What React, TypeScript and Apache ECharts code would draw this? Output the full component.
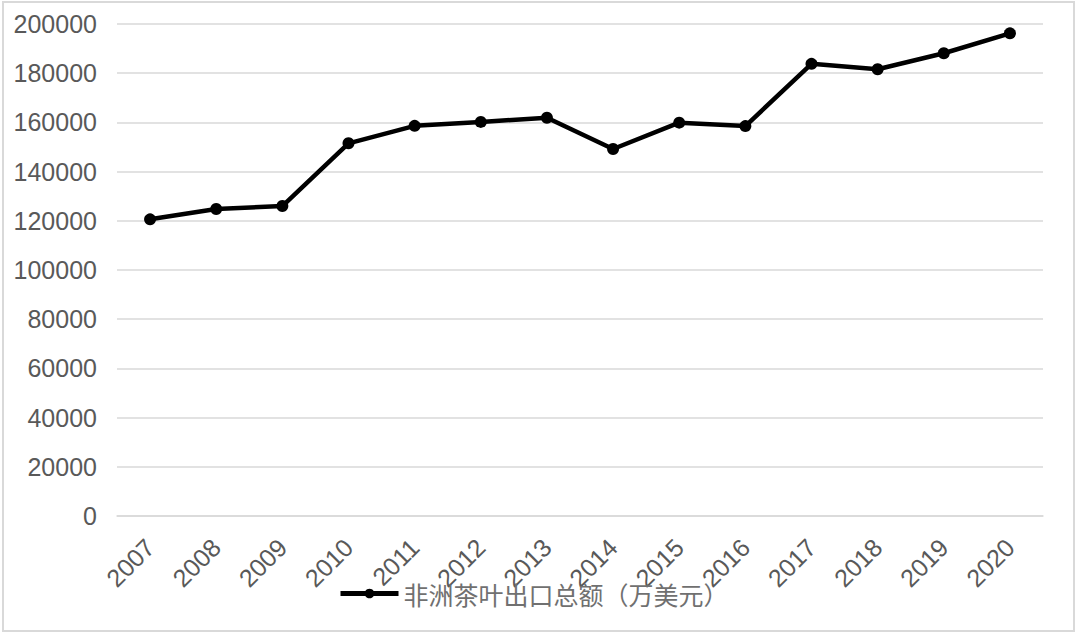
import React, { useEffect, useRef } from "react";
import * as echarts from "echarts";

const years = ["2007", "2008", "2009", "2010", "2011", "2012", "2013", "2014", "2015", "2016", "2017", "2018", "2019", "2020"];
const exportTotal = [120600, 124800, 126000, 151500, 158600, 160200, 161900, 149200, 159900, 158500, 183800, 181600, 188100, 196200];
const seriesName = "非洲茶叶出口总额（万美元）";
const yMin = 0;
const yMax = 200000;
const yStep = 20000;

export default function App() {
  const ref = useRef<HTMLDivElement>(null);
  useEffect(() => {
    if (!ref.current) return;
    const chart = echarts.init(ref.current, null, { renderer: "svg" });
    chart.setOption({
      animation: false,
      backgroundColor: "#ffffff",
      textStyle: { fontFamily: "'Liberation Sans', 'Noto Sans CJK SC', sans-serif" },
      graphic: [
        {
          type: "rect",
          shape: { x: 3, y: 2, width: 1071, height: 629 },
          style: { fill: "none", stroke: "#d9d9d9", lineWidth: 2 },
          silent: true,
        },
      ],
      grid: { left: 117, right: 37, top: 24, bottom: 120, containLabel: false },
      legend: {
        show: true,
        left: 333,
        top: 576,
        itemWidth: 58,
        itemHeight: 12,
        itemGap: 10,
        lineStyle: { width: 5, color: "#000000" },
        itemStyle: { color: "#000000" },
        data: [{ name: seriesName }],
        textStyle: {
          color: "#707070",
          fontSize: 25,
          fontFamily: "'Noto Sans CJK SC', sans-serif",
        },
      },
      xAxis: {
        type: "category",
        data: years,
        boundaryGap: true,
        axisLine: { show: true, lineStyle: { color: "#d9d9d9", width: 1.5 } },
        axisTick: { show: false },
        axisLabel: {
          rotate: 45,
          margin: 27,
          color: "#595959",
          fontSize: 25,
          fontFamily: "'Liberation Sans', sans-serif",
        },
      },
      yAxis: {
        type: "value",
        min: yMin,
        max: yMax,
        interval: yStep,
        axisLine: { show: false },
        axisTick: { show: false },
        splitLine: { show: true, lineStyle: { color: "#d9d9d9", width: 1.5 } },
        axisLabel: {
          margin: 20,
          color: "#595959",
          fontSize: 25,
          fontFamily: "'Liberation Sans', sans-serif",
          formatter: (v: number) => String(v),
        },
      },
      series: [
        {
          name: seriesName,
          type: "line",
          data: exportTotal,
          symbol: "circle",
          symbolSize: 12,
          lineStyle: { color: "#000000", width: 4.5 },
          itemStyle: { color: "#000000" },
        },
      ],
    });
    return () => chart.dispose();
  }, []);
  return (
    <div
      ref={ref}
      style={{ position: "fixed", left: 0, top: 0, width: 1080, height: 636 }}
    />
  );
}
